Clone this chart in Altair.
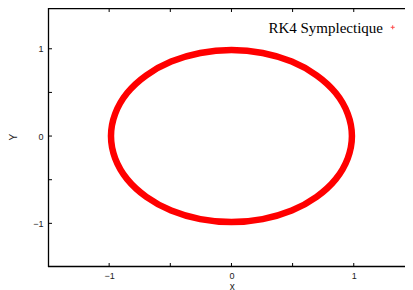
import altair as alt
import pandas as pd

# Orbit points (RK4 symplectic, unit circle)
orbit_x = [0.985, 0.951, 0.853, 0.696, 0.493, 0.255, 0.0, -0.255, -0.493, -0.696, -0.853, -0.951,
           -0.985, -0.951, -0.853, -0.696, -0.493, -0.255, 0.0, 0.255, 0.493, 0.696, 0.853, 0.951]
orbit_y = [0.0, 0.255, 0.493, 0.696, 0.853, 0.951, 0.985, 0.951, 0.853, 0.696, 0.493, 0.255,
           0.0, -0.255, -0.493, -0.696, -0.853, -0.951, -0.985, -0.951, -0.853, -0.696, -0.493, -0.255]
tick_values = [-1, -0.5, 0, 0.5, 1]
label_values = [-1, 0, 1]
legend_labels = ["RK4 Symplectique"]

W, H = 357, 259
RED = "#ff0000"

orbit = pd.DataFrame({"x": orbit_x, "y": orbit_y, "i": list(range(len(orbit_x)))})

xscale = alt.Scale(domain=[-1.5, 1.419], nice=False, zero=False)
yscale = alt.Scale(domain=[-1.5, 1.467], nice=False, zero=False)

xaxis = alt.Axis(values=label_values, title="x", domain=False, ticks=False, grid=False,
                 labelFont="Liberation Sans", labelFontSize=9, labelColor="#222", labelPadding=4,
                 titleFont="Liberation Sans", titleFontSize=10, titleFontWeight="normal", titleColor="#222",
                 titleX=183.7, titleY=19, titleBaseline="middle", titleAlign="center")
yaxis = alt.Axis(values=label_values, title="Y", domain=False, ticks=False, grid=False,
                 labelFont="Liberation Sans", labelFontSize=9, labelColor="#222", labelPadding=5,
                 titleFont="Liberation Sans", titleFontSize=10, titleFontWeight="normal", titleColor="#222",
                 titleX=-35, titleY=128.7, titleAngle=-90, titleBaseline="middle", titleAlign="center")

circle = alt.Chart(orbit).mark_line(interpolate="cardinal-closed", color=RED, strokeWidth=6.5).encode(
    x=alt.X("x:Q", scale=xscale, axis=xaxis),
    y=alt.Y("y:Q", scale=yscale, axis=yaxis),
    order="i:Q",
)

xt = pd.DataFrame({"x": tick_values})
yt = pd.DataFrame({"y": tick_values})
xbot = alt.Chart(xt).mark_rule(color="black", strokeWidth=1).encode(
    x=alt.X("x:Q", scale=xscale, axis=xaxis), y=alt.value(H), y2=alt.value(H - 4))
xtop = alt.Chart(xt).mark_rule(color="black", strokeWidth=1).encode(
    x=alt.X("x:Q", scale=xscale, axis=xaxis), y=alt.value(0), y2=alt.value(4))
yleft = alt.Chart(yt).mark_rule(color="black", strokeWidth=1).encode(
    y=alt.Y("y:Q", scale=yscale, axis=yaxis), x=alt.value(0), x2=alt.value(4))

frame_left = alt.Chart(xt.head(1)).mark_rule(color="black", strokeWidth=1.3).encode(
    x=alt.value(0.5), y=alt.value(0), y2=alt.value(H))
frame_top = alt.Chart(xt.head(1)).mark_rule(color="black", strokeWidth=1.3).encode(
    x=alt.value(0), x2=alt.value(W), y=alt.value(0.5))
frame_bot = alt.Chart(xt.head(1)).mark_rule(color="black", strokeWidth=1.3).encode(
    x=alt.value(0), x2=alt.value(W), y=alt.value(H - 0.5))

leg = pd.DataFrame({"label": legend_labels})
legend_text = alt.Chart(leg).mark_text(font="Liberation Serif", fontSize=15, align="right",
                                       baseline="alphabetic", color="black").encode(
    text="label:N", x=alt.value(335), y=alt.value(24.5))
legend_sym = alt.Chart(leg).mark_point(shape="M-1,0H1M0,-1V1", size=16, color=RED, strokeWidth=1,
                                       filled=False).encode(
    x=alt.value(344.7), y=alt.value(19.3))

chart = alt.layer(circle, xbot, xtop, yleft, frame_left, frame_top, frame_bot,
                  legend_text, legend_sym).properties(
    width=W, height=H,
    autosize=alt.AutoSizeParams(type="none"),
    padding={"left": 40, "top": 0, "right": 0, "bottom": 25},
).configure_view(stroke=None)

chart.save("out.html", embed_options={"renderer": "svg", "actions": False})
